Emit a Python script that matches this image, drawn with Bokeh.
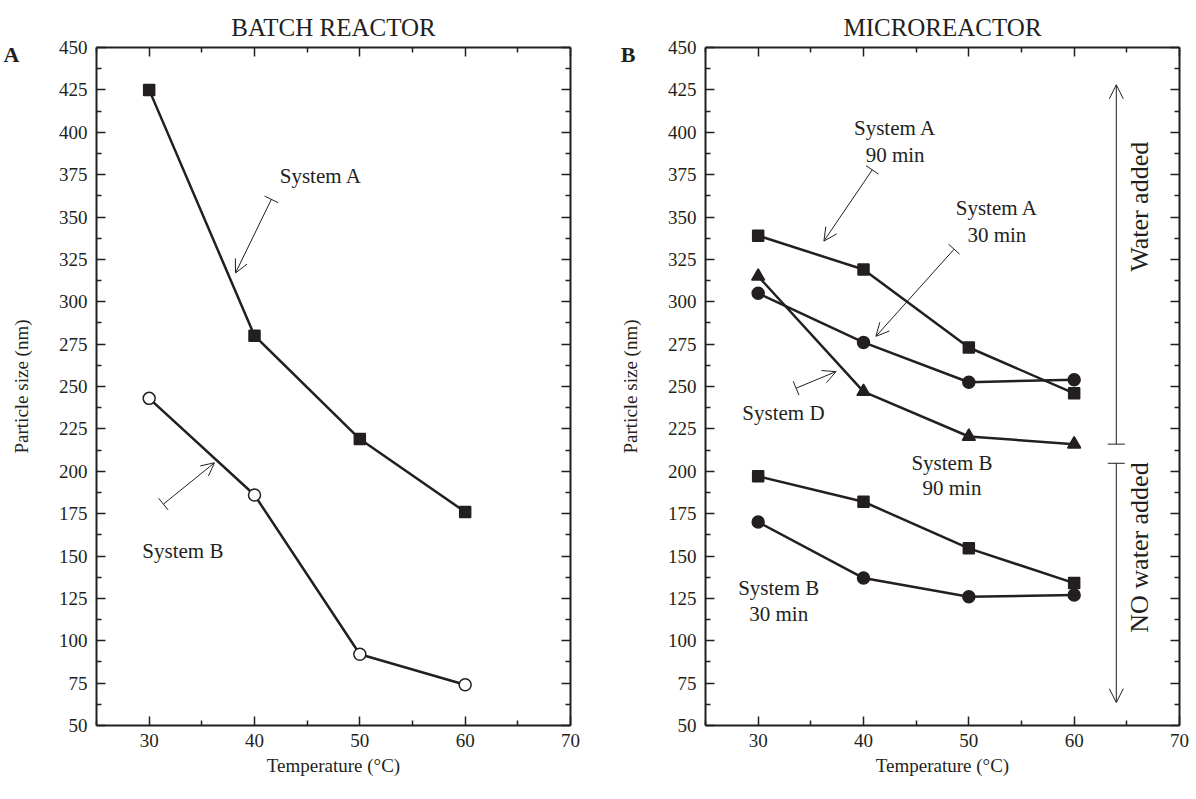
import math
from bokeh.plotting import figure
from bokeh.layouts import row
from bokeh.models import (LinearAxis, FixedTicker, Range1d, Arrow, TeeHead,
                          OpenHead, Label)
from bokeh.embed import file_html
from bokeh.resources import INLINE

FONT = "Liberation Serif"
INK = "#231f20"

# ---------------- data ----------------
temperature = [30, 40, 50, 60]
batch_system_a = [425, 280, 219, 176]
batch_system_b = [243, 186, 92, 74]
micro_system_a_90 = [339, 319, 273, 246]
micro_system_a_30 = [305, 276, 252.5, 254]
micro_system_d = [315, 247, 220.5, 216]
micro_system_b_90 = [197, 182, 154.5, 134]
micro_system_b_30 = [170, 137, 126, 127]

x_major_ticks = [30, 40, 50, 60, 70]
x_minor_ticks = [25, 35, 45, 55, 65]
y_major_ticks = [50, 75, 100, 125, 150, 175, 200, 225, 250, 275, 300, 325,
                 350, 375, 400, 425, 450]
y_minor_ticks = [62.5, 87.5, 112.5, 137.5, 162.5, 187.5, 212.5, 237.5, 262.5,
                 287.5, 312.5, 337.5, 362.5, 387.5, 412.5, 437.5]
x_lim = (25, 70)
y_lim = (50, 450)
letter_level = 446

FW = 474
FH = 678


def style_axis(ax, labels=True):
    ax.axis_line_width = 2
    ax.axis_line_color = INK
    ax.major_tick_line_color = INK
    ax.minor_tick_line_color = INK
    ax.major_tick_line_width = 1.5
    ax.minor_tick_line_width = 1.5
    ax.major_tick_in = 9
    ax.major_tick_out = 0
    ax.minor_tick_in = 5
    ax.minor_tick_out = 0
    ax.major_label_text_font = FONT
    ax.axis_label_text_font = FONT
    ax.axis_label_text_font_size = "19px"
    ax.axis_label_text_font_style = "normal"
    ax.axis_label_text_color = INK
    if labels:
        ax.major_label_text_font_size = "19px"
        ax.major_label_text_color = INK
    else:
        ax.major_label_text_font_size = "1px"
        ax.major_label_text_color = None
        ax.major_label_standoff = 0


def panel(title, letter, btop, bbottom, bleft, bright, letter_standoff):
    p = figure(x_range=Range1d(*x_lim), y_range=Range1d(*y_lim),
               frame_width=FW, frame_height=FH, output_backend="svg",
               toolbar_location=None, x_axis_type=None, y_axis_type=None,
               min_border_top=btop, min_border_bottom=bbottom,
               min_border_left=bleft, min_border_right=bright,
               title=title)
    p.title.align = "center"
    p.title.text_font = FONT
    p.title.text_font_size = "25px"
    p.title.text_font_style = "normal"
    p.title.text_color = INK
    p.title.standoff = 14
    p.outline_line_color = None
    p.background_fill_color = "white"
    p.border_fill_color = "white"

    bx = LinearAxis(ticker=FixedTicker(ticks=x_major_ticks, minor_ticks=x_minor_ticks),
                    axis_label="Temperature (°C)")
    style_axis(bx)
    bx.major_label_standoff = 8
    bx.axis_label_standoff = 5
    p.add_layout(bx, "below")

    ly = LinearAxis(ticker=FixedTicker(ticks=y_major_ticks, minor_ticks=y_minor_ticks),
                    axis_label="Particle size (nm)")
    style_axis(ly)
    ly.major_label_standoff = 9
    ly.axis_label_standoff = 24
    p.add_layout(ly, "left")

    # mirrored tick marks on the top and right edges
    tx = LinearAxis(ticker=FixedTicker(ticks=x_major_ticks, minor_ticks=x_minor_ticks))
    style_axis(tx, labels=False)
    p.add_layout(tx, "above")
    ry = LinearAxis(ticker=FixedTicker(ticks=y_major_ticks, minor_ticks=y_minor_ticks))
    style_axis(ry, labels=False)
    p.add_layout(ry, "right")

    # panel letter, drawn as the single label of an outer, invisible axis
    la = LinearAxis(ticker=FixedTicker(ticks=[letter_level], minor_ticks=[]),
                    major_label_overrides={letter_level: letter})
    la.axis_line_color = None
    la.major_tick_line_color = None
    la.minor_tick_line_color = None
    la.major_tick_in = 0
    la.major_tick_out = 0
    la.minor_tick_in = 0
    la.minor_tick_out = 0
    la.major_label_text_font = FONT
    la.major_label_text_font_size = "22px"
    la.major_label_text_font_style = "bold"
    la.major_label_text_color = INK
    la.major_label_standoff = letter_standoff
    p.add_layout(la, "left")
    return p


def series(p, ys, marker, size, fill=INK):
    p.line(temperature, ys, line_color=INK, line_width=2.5)
    p.scatter(temperature, ys, marker=marker, size=size, fill_color=fill,
              line_color=INK, line_width=1.5)


def note(p, x, y, text, size="21px", angle=0.0):
    p.add_layout(Label(x=x, y=y, text=text, text_font=FONT,
                       text_font_size=size, text_color=INK,
                       text_align="center", text_baseline="middle",
                       angle=angle))


def pointer(p, xs, ys, xe, ye, tee=15, head=13):
    p.add_layout(Arrow(start=TeeHead(size=tee, line_color=INK, line_width=1),
                       end=OpenHead(size=head, line_color=INK, line_width=1),
                       x_start=xs, y_start=ys, x_end=xe, y_end=ye,
                       line_color=INK, line_width=1))


# ---------------- panel A: batch reactor ----------------
pa = panel("BATCH REACTOR", "A", 47, 57, 87, 27, -12)
series(pa, batch_system_a, "square", 11)
series(pa, batch_system_b, "circle", 12, fill="white")
note(pa, 46.3, 374, "System A")
pointer(pa, 41.6, 360.4, 38.2, 317)
note(pa, 33.2, 153, "System B")
pointer(pa, 31.35, 180.6, 36.2, 205)

# ---------------- panel B: microreactor ----------------
pb = panel("MICROREACTOR", "B", 44, 60, 108, 10, -19)
series(pb, micro_system_a_90, "square", 11)
series(pb, micro_system_a_30, "circle", 12)
series(pb, micro_system_d, "triangle", 13)
series(pb, micro_system_b_90, "square", 11)
series(pb, micro_system_b_30, "circle", 12)

note(pb, 43.0, 402.4, "System A")
note(pb, 43.0, 386.5, "90 min")
pointer(pb, 40.83, 377.8, 36.24, 335.8)
note(pb, 52.66, 355.4, "System A")
note(pb, 52.66, 339.3, "30 min")
pointer(pb, 48.6, 331, 41.18, 279.6)
note(pb, 32.4, 234.4, "System D")
pointer(pb, 33.6, 249, 37.39, 258.8)
note(pb, 48.4, 205, "System B")
note(pb, 48.4, 190, "90 min")
note(pb, 31.95, 131, "System B")
note(pb, 31.95, 115.5, "30 min")

pointer(pb, 64, 216, 64, 428, tee=17, head=14)
pointer(pb, 64, 204.7, 64, 63.5, tee=17, head=14)
note(pb, 66.2, 356, "Water added", size="26px", angle=math.pi / 2)
note(pb, 66.2, 155, "NO water added", size="26px", angle=math.pi / 2)

layout = row(pa, pb)
open("out.html", "w").write(file_html(layout, INLINE))
